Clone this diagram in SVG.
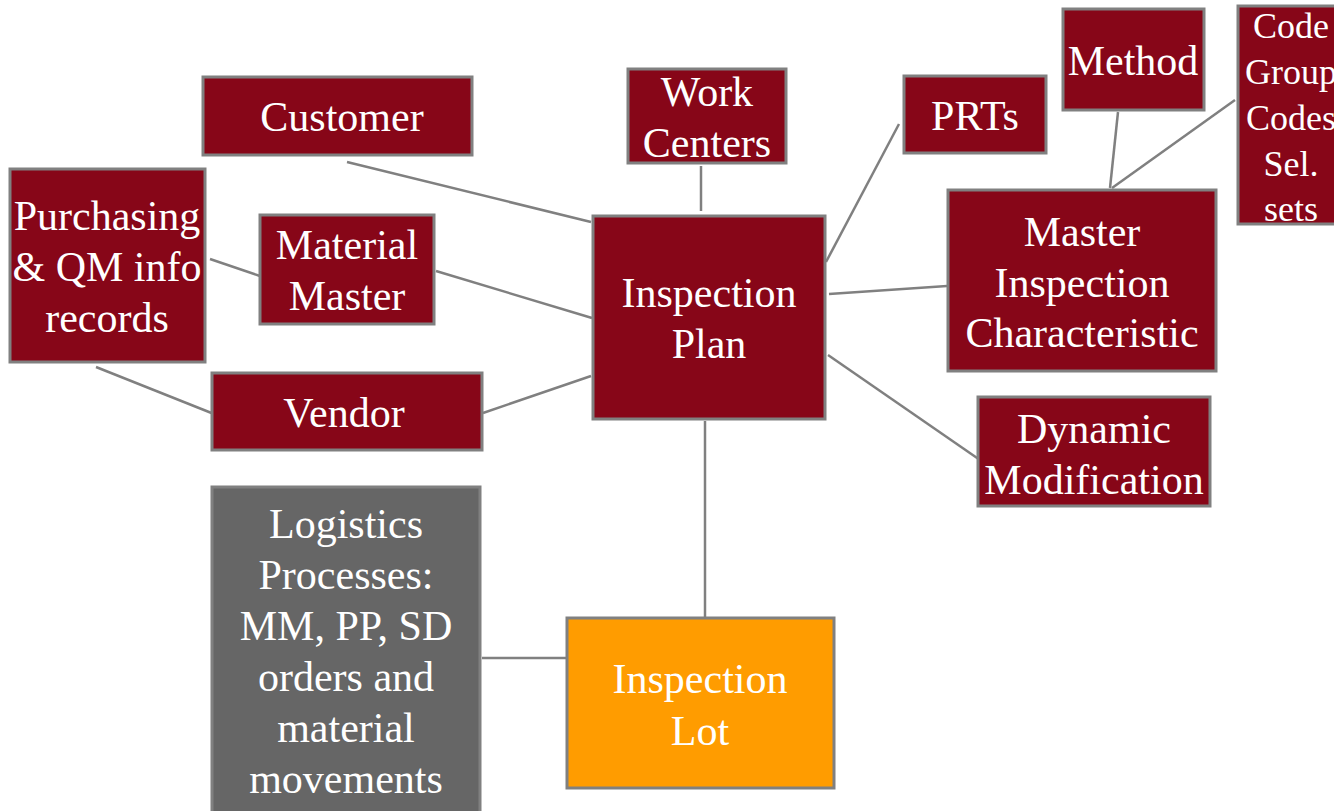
<svg xmlns="http://www.w3.org/2000/svg" width="1334" height="811" viewBox="0 0 1334 811">
<style>
.n{fill:#870618;stroke:#808080;stroke-width:3}
.g{fill:#666666;stroke:#808080;stroke-width:3}
.o{fill:#FF9C00;stroke:#808080;stroke-width:3}
text{font-family:"Liberation Serif","Times New Roman",serif;font-size:42px;fill:#ffffff;text-anchor:middle}
.s{font-size:36px}
#connectors line{stroke:#808080;stroke-width:2.5}
</style>
<rect width="1334" height="811" fill="#ffffff"/>
<g id="connectors">
<line x1="347" y1="162" x2="591" y2="222"/>
<line x1="436" y1="271" x2="592" y2="318"/>
<line x1="483" y1="413" x2="591" y2="376"/>
<line x1="210" y1="259" x2="260" y2="276"/>
<line x1="96" y1="367" x2="214" y2="414"/>
<line x1="701" y1="166" x2="701" y2="211"/>
<line x1="826" y1="262" x2="899" y2="124"/>
<line x1="829" y1="294" x2="947" y2="286"/>
<line x1="828" y1="355" x2="980" y2="460"/>
<line x1="1118" y1="112" x2="1110" y2="188"/>
<line x1="1235" y1="100" x2="1112" y2="188"/>
<line x1="705" y1="421" x2="705" y2="617"/>
<line x1="482" y1="658" x2="567" y2="658"/>
</g>
<g id="customer"><rect class="n" x="203" y="77" width="269" height="78"/><text x="342" y="131">Customer</text></g>
<g id="work-centers"><rect class="n" x="628" y="69" width="158" height="94"/><text x="707" y="106">Work</text><text x="707" y="157">Centers</text></g>
<g id="prts"><rect class="n" x="904" y="76" width="142" height="77"/><text x="975" y="130">PRTs</text></g>
<g id="method"><rect class="n" x="1063" y="9" width="141" height="101"/><text x="1133" y="75">Method</text></g>
<g id="codes"><rect class="n" x="1238" y="6" width="110" height="218"/><text class="s" x="1291" y="38">Code</text><text class="s" x="1291" y="84">Group</text><text class="s" x="1291" y="130">Codes</text><text class="s" x="1291" y="176">Sel.</text><text class="s" x="1291" y="221">sets</text></g>
<g id="purchasing"><rect class="n" x="10" y="169" width="195" height="193"/><text x="107" y="230">Purchasing</text><text x="107" y="281">&amp; QM info</text><text x="107" y="332">records</text></g>
<g id="material-master"><rect class="n" x="260" y="215" width="174" height="109"/><text x="347" y="259">Material</text><text x="347" y="310">Master</text></g>
<g id="inspection-plan"><rect class="n" x="593" y="216" width="232" height="203"/><text x="709" y="307">Inspection</text><text x="709" y="358">Plan</text></g>
<g id="mic"><rect class="n" x="948" y="190" width="268" height="181"/><text x="1082" y="246">Master</text><text x="1082" y="297">Inspection</text><text x="1082" y="347">Characteristic</text></g>
<g id="vendor"><rect class="n" x="212" y="373" width="270" height="77"/><text x="344" y="427">Vendor</text></g>
<g id="dynamic-modification"><rect class="n" x="978" y="397" width="232" height="109"/><text x="1094" y="443">Dynamic</text><text x="1094" y="494">Modification</text></g>
<g id="logistics"><rect class="g" x="212" y="487" width="268" height="340"/><text x="346" y="538">Logistics</text><text x="346" y="589">Processes:</text><text x="346" y="640">MM, PP, SD</text><text x="346" y="691">orders and</text><text x="346" y="742">material</text><text x="346" y="793">movements</text></g>
<g id="inspection-lot"><rect class="o" x="567" y="618" width="267" height="170"/><text x="700" y="693">Inspection</text><text x="700" y="745">Lot</text></g>
</svg>
